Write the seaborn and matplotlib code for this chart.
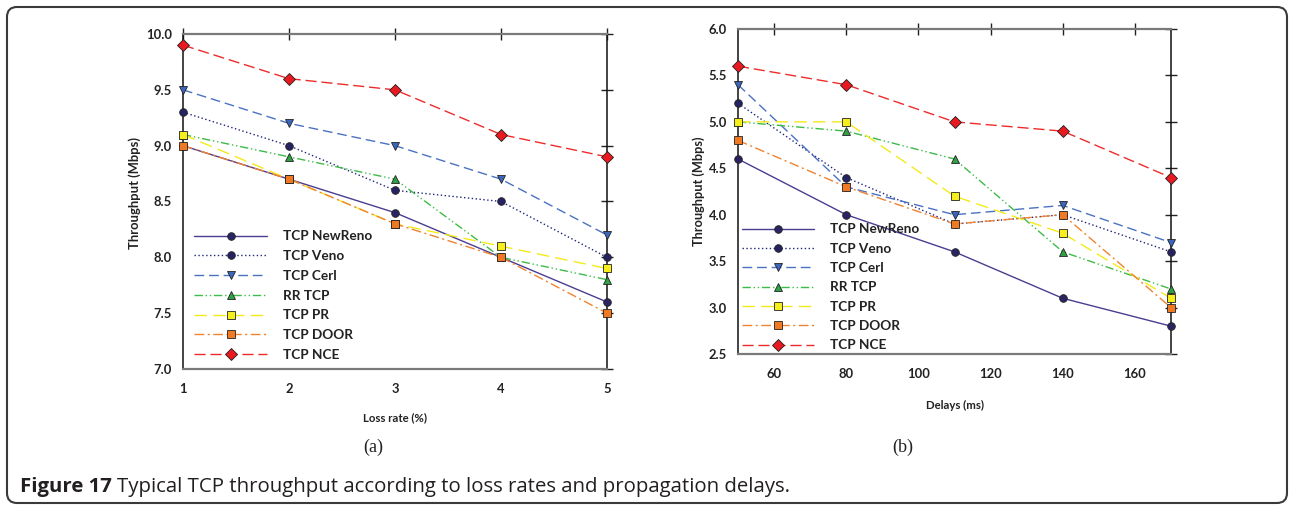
import matplotlib
matplotlib.use("Agg")
import matplotlib.pyplot as plt
from matplotlib.patches import FancyBboxPatch
import seaborn as sns
import pandas as pd

# ---- data -------------------------------------------------------------
series_names = ["TCP NewReno", "TCP Veno", "TCP Cerl", "RR TCP",
                "TCP PR", "TCP DOOR", "TCP NCE"]

loss_rates = [1, 2, 3, 4, 5]
loss_newreno = [9.0, 8.7, 8.4, 8.0, 7.6]
loss_veno = [9.3, 9.0, 8.6, 8.5, 8.0]
loss_cerl = [9.5, 9.2, 9.0, 8.7, 8.2]
loss_rr = [9.1, 8.9, 8.7, 8.0, 7.8]
loss_pr = [9.1, 8.7, 8.3, 8.1, 7.9]
loss_door = [9.0, 8.7, 8.3, 8.0, 7.5]
loss_nce = [9.9, 9.6, 9.5, 9.1, 8.9]

delays = [50, 80, 110, 140, 170]
delay_newreno = [4.6, 4.0, 3.6, 3.1, 2.8]
delay_veno = [5.2, 4.4, 3.9, 4.0, 3.6]
delay_cerl = [5.4, 4.3, 4.0, 4.1, 3.7]
delay_rr = [5.0, 4.9, 4.6, 3.6, 3.2]
delay_pr = [5.0, 5.0, 4.2, 3.8, 3.1]
delay_door = [4.8, 4.3, 3.9, 4.0, 3.0]
delay_nce = [5.6, 5.4, 5.0, 4.9, 4.4]

loss_ticks = [1, 2, 3, 4, 5]
loss_yticks = [7.0, 7.5, 8.0, 8.5, 9.0, 9.5, 10.0]
delay_ticks = [60, 80, 100, 120, 140, 160]
delay_yticks = [2.5, 3.0, 3.5, 4.0, 4.5, 5.0, 5.5, 6.0]

# ---- styles -----------------------------------------------------------
styles = {
    "TCP NewReno": dict(color="#4b3d90", ls="-", marker="o", mfc="#2a2562"),
    "TCP Veno": dict(color="#1f2478", ls=(0, (1, 1.8)), marker="o", mfc="#252262"),
    "TCP Cerl": dict(color="#4a72c2", ls=(0, (7, 3.5)), marker="v", mfc="#3b66bc"),
    "RR TCP": dict(color="#3dbb48", ls=(0, (6, 2, 1, 2, 1, 2)), marker="^", mfc="#2fa043"),
    "TCP PR": dict(color="#f3ea1a", ls=(0, (9, 4.5)), marker="s", mfc="#f6ef1c"),
    "TCP DOOR": dict(color="#f08332", ls=(0, (7, 2.5, 1.5, 2.5)), marker="s", mfc="#f07a24"),
    "TCP NCE": dict(color="#ee2b2b", ls=(0, (8, 3.5)), marker="D", mfc="#e81a20"),
}

sns.set_theme(style="white")
plt.rcParams["font.family"] = ["Lato", "DejaVu Sans"]
plt.rcParams["font.weight"] = "bold"

fig = plt.figure(figsize=(12.89, 5.05), dpi=100)
fig.patch.set_facecolor("white")

ax_a = fig.add_axes([183 / 1289, 136 / 505, 424 / 1289, 335 / 505])
ax_b = fig.add_axes([738 / 1289, 151 / 505, 433 / 1289, 325 / 505])

loss_df = pd.DataFrame({"x": loss_rates, "TCP NewReno": loss_newreno,
                        "TCP Veno": loss_veno, "TCP Cerl": loss_cerl,
                        "RR TCP": loss_rr, "TCP PR": loss_pr,
                        "TCP DOOR": loss_door, "TCP NCE": loss_nce})
delay_df = pd.DataFrame({"x": delays, "TCP NewReno": delay_newreno,
                         "TCP Veno": delay_veno, "TCP Cerl": delay_cerl,
                         "RR TCP": delay_rr, "TCP PR": delay_pr,
                         "TCP DOOR": delay_door, "TCP NCE": delay_nce})


def draw_panel(ax, df):
    for name in series_names:
        st = styles[name]
        ms = 6.0 if st["marker"] == "D" else 5.5
        sns.lineplot(data=df, x="x", y=name, ax=ax, color=st["color"],
                     linestyle=st["ls"], linewidth=1.0, marker=st["marker"],
                     markersize=ms, markerfacecolor=st["mfc"],
                     markeredgecolor="#222222", markeredgewidth=0.6,
                     label=name, clip_on=False, zorder=3)


def style_axes(ax):
    for side in ("left", "right"):
        ax.spines[side].set_color("#111111")
        ax.spines[side].set_linewidth(1.1)
    for side in ("top", "bottom"):
        ax.spines[side].set_color("#7a7a7a")
        ax.spines[side].set_linewidth(1.6)
    ax.tick_params(which="major", direction="inout", length=8, width=1.0,
                   color="#222222", top=True, right=True, labelsize=9.4,
                   labelcolor="#222222")
    ax.tick_params(axis="x", pad=6)
    ax.tick_params(axis="y", pad=4)
    for lab in ax.get_xticklabels() + ax.get_yticklabels():
        lab.set_fontweight("bold")
    ax.grid(False)


def add_legend(ax, anchor, spacing):
    leg = ax.legend(loc="upper left", bbox_to_anchor=anchor, frameon=False,
                    handlelength=5.3, handletextpad=1.2, labelspacing=spacing,
                    borderpad=0, borderaxespad=0,
                    prop={"family": ["Lato", "DejaVu Sans"], "weight": "bold",
                          "size": 9.8})
    for t in leg.get_texts():
        t.set_color("#222222")


# panel (a): throughput versus loss rate
draw_panel(ax_a, loss_df)
ax_a.set_xlim(1, 5)
ax_a.set_ylim(7.0, 10.0)
ax_a.set_xticks(loss_ticks)
ax_a.set_yticks(loss_yticks)
ax_a.set_xticklabels([str(v) for v in loss_ticks])
ax_a.set_yticklabels([f"{v:.1f}" for v in loss_yticks])
style_axes(ax_a)
ax_a.set_xlabel("Loss rate (%)", fontsize=8.2, fontweight="bold", color="#222222")
ax_a.set_ylabel("Throughput (Mbps)", fontsize=9.4, fontweight="bold", color="#222222")
ax_a.xaxis.set_label_coords(0.5, -0.128)
ax_a.yaxis.set_label_coords(-0.1, 0.525)
add_legend(ax_a, (0.027, 0.414), 0.57)

# panel (b): throughput versus delay
draw_panel(ax_b, delay_df)
ax_b.set_xlim(50, 170)
ax_b.set_ylim(2.5, 6.0)
ax_b.set_xticks(delay_ticks)
ax_b.set_yticks(delay_yticks)
ax_b.set_xticklabels([str(v) for v in delay_ticks])
ax_b.set_yticklabels([f"{v:.1f}" for v in delay_yticks])
style_axes(ax_b)
ax_b.set_xlabel("Delays (ms)", fontsize=8.2, fontweight="bold", color="#222222")
ax_b.set_ylabel("Throughput (Mbps)", fontsize=9.2, fontweight="bold", color="#222222")
ax_b.xaxis.set_label_coords(0.5, -0.14)
ax_b.yaxis.set_label_coords(-0.077, 0.5)
add_legend(ax_b, (0.009, 0.402), 0.54)

# sub-figure tags
fig.text(373 / 1289, 1 - 447 / 505, "(a)", ha="center", va="center",
         family=["Liberation Serif", "DejaVu Serif"], fontsize=13,
         fontweight="normal", color="#222222")
fig.text(903 / 1289, 1 - 447 / 505, "(b)", ha="center", va="center",
         family=["Liberation Serif", "DejaVu Serif"], fontsize=13,
         fontweight="normal", color="#222222")

# figure caption: bold label followed by regular text
cap_y = 1 - 487 / 505
cap_font = ["Open Sans", "Lato", "DejaVu Sans"]
t1 = fig.text(20 / 1289, cap_y, "Figure 17", ha="left", va="center",
              family=cap_font, fontsize=14.7, fontweight="bold",
              color="#231f20")
fig.canvas.draw()
bb = t1.get_window_extent(renderer=fig.canvas.get_renderer())
fig.text((bb.x1 + 5) / 1289, cap_y,
         "Typical TCP throughput according to loss rates and propagation delays.",
         ha="left", va="center", family=cap_font, fontsize=14.7,
         fontweight="normal", color="#231f20")

# rounded frame around the whole figure
frame = FancyBboxPatch((7, 2), 1280, 496,
                       boxstyle="round,pad=0,rounding_size=10",
                       transform=None, fill=False, edgecolor="#3a3a3a",
                       linewidth=1.5)
fig.add_artist(frame)

fig.savefig("out.png", dpi=100, facecolor="white")
